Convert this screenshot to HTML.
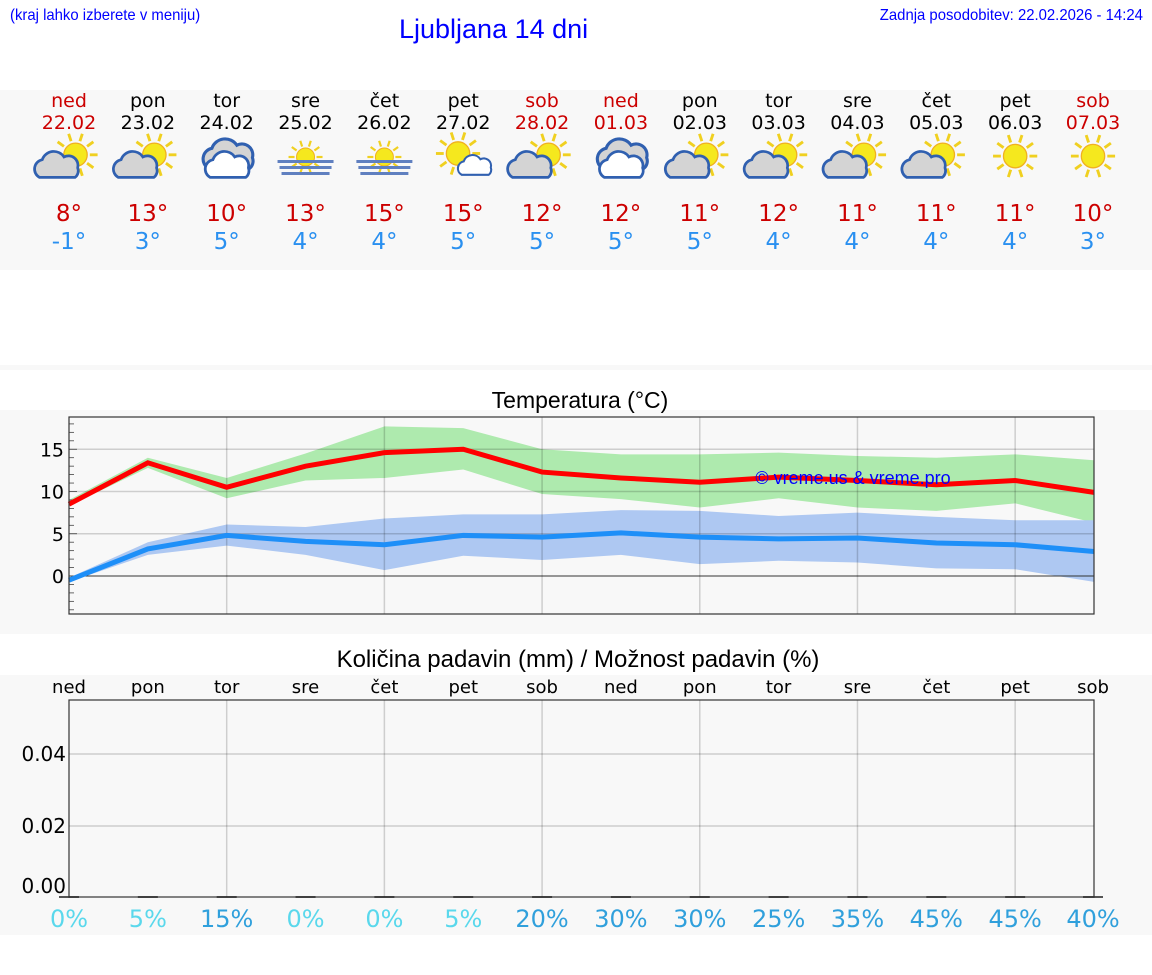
<!DOCTYPE html>
<html><head><meta charset="utf-8"><style>
body{margin:0;width:1152px;height:975px;background:#fff;overflow:hidden;position:relative;font-family:"DejaVu Sans",sans-serif}
.n{font-family:"Liberation Sans",sans-serif;color:#0000ff;position:absolute;white-space:nowrap}
</style></head><body>
<div class="n" style="left:10px;top:7px;font-size:16px;transform:scaleX(0.93);transform-origin:left">(kraj lahko izberete v meniju)</div>
<div class="n" style="left:399px;top:14px;font-size:27px">Ljubljana 14 dni</div>
<div class="n" style="right:9px;top:7px;font-size:16px;transform:scaleX(0.93);transform-origin:right">Zadnja posodobitev: 22.02.2026 - 14:24</div>
<svg id="s" width="1152" height="975" style="position:absolute;left:0;top:0"></svg>
<script>
var S='';
function X(i){return 69+i*1025/13}
S+='<rect x="0" y="90" width="1152" height="180" fill="#f8f8f8"/>';
S+='<rect x="0" y="365" width="1152" height="5" fill="#f8f8f8"/>';
S+='<rect x="0" y="410" width="1152" height="224" fill="#f8f8f8"/>';
S+='<rect x="0" y="675" width="1152" height="260" fill="#f8f8f8"/>';
var dn=['ned','pon','tor','sre','čet','pet','sob','ned','pon','tor','sre','čet','pet','sob'];
var dd=['22.02','23.02','24.02','25.02','26.02','27.02','28.02','01.03','02.03','03.03','04.03','05.03','06.03','07.03'];
var hi=[8,13,10,13,15,15,12,12,11,12,11,11,11,10],lo=[-1,3,5,4,4,5,5,5,5,4,4,4,4,3];
var ic=['pc','pc','cl','fog','fog','sc','pc','cl','pc','pc','pc','pc','sun','sun'];
var pr=[0,5,15,0,0,5,20,30,30,25,35,45,45,40];
function sun(cx,cy,r){var s='';for(var k=0;k<10;k++){var a=k*Math.PI/5;s+='<line x1="'+(cx+Math.cos(a)*(r+2))+'" y1="'+(cy+Math.sin(a)*(r+2))+'" x2="'+(cx+Math.cos(a)*(r+8))+'" y2="'+(cy+Math.sin(a)*(r+8))+'" stroke="#f0d020" stroke-width="2.2"/>';}
return s+'<circle cx="'+cx+'" cy="'+cy+'" r="'+r+'" fill="#f5e81e" stroke="#f0b020" stroke-width="1"/>';}
function cloud(cx,cy,sc,fill){return '<g transform="translate('+cx+','+cy+') scale('+sc+')"><path d="M-14,8 a7,7 0 0 1 2,-13 a9,9 0 0 1 16,-2 a7,7 0 0 1 10,8 a6,6 0 0 1 -2,7 z" fill="'+fill+'" stroke="#3060b0" stroke-width="2"/></g>';}
for(var i=0;i<14;i++){var x=X(i)+(i==13?-1:0);var red=(dn[i]=='ned'||dn[i]=='sob');
S+='<text x="'+x+'" y="107" text-anchor="middle" font-size="19" fill="'+(red?'#cc0000':'#000')+'">'+dn[i]+'</text>';
S+='<text x="'+x+'" y="129" text-anchor="middle" font-size="19" fill="'+(red?'#cc0000':'#000')+'">'+dd[i]+'</text>';
var t=ic[i],g='';
if(t=='pc'){g=sun(x+5,156,9)+cloud(x-8,165,1.05,'#d4d4d4');}
else if(t=='sc'){g=sun(x-4,155,9)+cloud(x+10,165,0.8,'#fff');}
else if(t=='sun'){g=sun(x,157,9);}
else if(t=='cl'){g=cloud(x+3,157,1.2,'#d4d4d4')+cloud(x+2,165,1.05,'#fff');}
else if(t=='fog'){g=sun(x,157,9)+'<rect x="'+(x-28)+'" y="160" width="56" height="3" fill="#6080c0"/><rect x="'+(x-26)+'" y="166" width="52" height="3" fill="#6080c0"/><rect x="'+(x-24)+'" y="172" width="48" height="3" fill="#6080c0"/>';}
var k=(t=='fog')?1:1.3;
S+='<g transform="translate('+x+',160) scale('+k+') translate('+(-x)+',-160)">'+g+'</g>';
S+='<text x="'+x+'" y="221" text-anchor="middle" font-size="23" fill="#cc0000">'+hi[i]+'°</text>';
S+='<text x="'+x+'" y="249" text-anchor="middle" font-size="23" fill="#2a90f0">'+lo[i]+'°</text>';
var c=pr[i]<=5?'#5ad8ec':'#30a0dc';
S+='<text x="'+x+'" y="927" text-anchor="middle" font-size="24" fill="'+c+'">'+pr[i]+'%</text>';
S+='<text x="'+x+'" y="693" text-anchor="middle" font-size="18" fill="#000">'+dn[i]+'</text>';
S+='<rect x="'+(x-10)+'" y="896" width="20" height="2" fill="#555"/>';}
function Y(t){return 576-8.45*t}
S+='<text x="580" y="408" text-anchor="middle" font-size="23" font-family="Liberation Sans,sans-serif">Temperatura (°C)</text>';
S+='<rect x="69" y="417" width="1025" height="197" fill="#f8f8f8"/>';
var r=[8.5,13.4,10.5,13.0,14.6,15.0,12.3,11.6,11.1,11.7,11.3,10.8,11.3,9.9];
var gu=[9,14,11.6,14.5,17.7,17.5,15,14.4,14.4,14.6,14.2,14,14.4,13.7],gl=[8.3,12.8,9.2,11.3,11.6,12.6,9.7,9.1,8.1,9.2,8.1,7.7,8.6,6.3];
var b=[-0.5,3.2,4.8,4.1,3.7,4.8,4.6,5.1,4.6,4.4,4.5,3.9,3.7,2.9];
var bu=[-0.2,4,6.1,5.8,6.8,7.3,7.3,7.8,7.7,7.1,7.5,7,6.6,6.6],bl=[-0.7,2.5,3.6,2.5,0.7,2.4,1.9,2.5,1.4,1.8,1.6,0.9,0.8,-0.7];
function band(u,l,f){var p='';for(var i=0;i<14;i++)p+=X(i)+','+Y(u[i])+' ';for(var i=13;i>=0;i--)p+=X(i)+','+Y(l[i])+' ';return '<polygon points="'+p+'" fill="'+f+'"/>';}
function line(a,c){var p='';for(var i=0;i<14;i++)p+=X(i)+','+Y(a[i])+' ';return '<polyline points="'+p+'" fill="none" stroke="'+c+'" stroke-width="5"/>';}
S+=band(gu,gl,'#aeeaae')+band(bu,bl,'#aec8f2');
[15,10,5].forEach(function(v){S+='<line x1="69" x2="1094" y1="'+Y(v)+'" y2="'+Y(v)+'" stroke="rgba(0,0,0,0.17)" stroke-width="1.5"/>';S+='<text x="64" y="'+(Y(v)+7)+'" text-anchor="end" font-size="19">'+v+'</text>';});
S+='<text x="64" y="583" text-anchor="end" font-size="19">0</text>';
S+='<line x1="69" x2="1094" y1="576" y2="576" stroke="#333" stroke-width="1"/>';
for(var i=2;i<14;i+=2)S+='<line x1="'+X(i)+'" x2="'+X(i)+'" y1="417" y2="614" stroke="rgba(0,0,0,0.17)" stroke-width="1.5"/>';
for(var v=-4;v<=18;v++)S+='<line x1="69" x2="'+(v%5==0?77:74)+'" y1="'+Y(v)+'" y2="'+Y(v)+'" stroke="#444" stroke-width="0.8"/>';
S+=line(r,'#ff0000')+line(b,'#1e8ff8');
S+='<text x="853" y="484" text-anchor="middle" font-size="18" font-family="Liberation Sans,sans-serif" fill="#0000ff">© vreme.us &amp; vreme.pro</text>';
S+='<rect x="69" y="417" width="1025" height="197" fill="none" stroke="#333" stroke-width="1.2"/>';
S+='<text x="578" y="667" text-anchor="middle" font-size="24" font-family="Liberation Sans,sans-serif">Količina padavin (mm) / Možnost padavin (%)</text>';
[[754,'0.04'],[826,'0.02']].forEach(function(a){S+='<line x1="69" x2="1094" y1="'+a[0]+'" y2="'+a[0]+'" stroke="rgba(0,0,0,0.17)" stroke-width="1.5"/><text x="66" y="'+(a[0]+7)+'" text-anchor="end" font-size="20">'+a[1]+'</text>';});
S+='<text x="66" y="893" text-anchor="end" font-size="20">0.00</text>';
for(var i=2;i<14;i+=2)S+='<line x1="'+X(i)+'" x2="'+X(i)+'" y1="700" y2="897" stroke="rgba(0,0,0,0.17)" stroke-width="1.5"/>';
S+='<rect x="69" y="700" width="1025" height="197" fill="none" stroke="#333" stroke-width="1.2"/>';
document.getElementById('s').innerHTML=S;
</script>
</body></html>
